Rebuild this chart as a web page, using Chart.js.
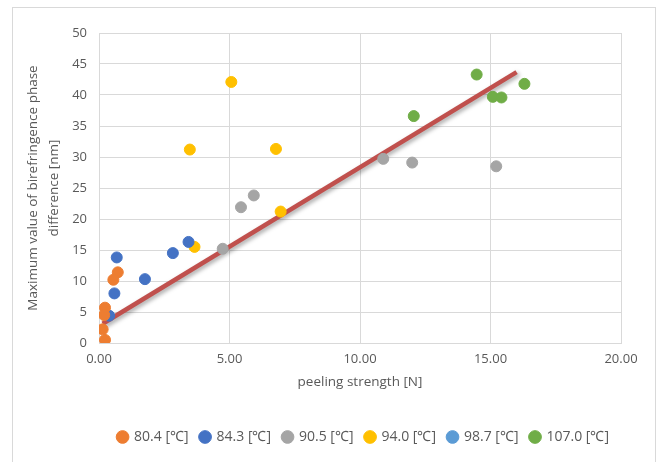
<!DOCTYPE html>
<html>
<head>
<meta charset="utf-8">
<script src="https://cdn.jsdelivr.net/npm/chart.js@4"></script>
<style>
  body { margin: 0; background: #fff; }
  #wrap { position: relative; width: 664px; height: 462px; }
  #frame { position: absolute; left: 12px; top: 7px; width: 644px; height: 470px; border: 1px solid #d9d9d9; box-sizing: border-box; }
  canvas { position: absolute; left: 0; top: 0; }
</style>
</head>
<body>
<div id="wrap">
  <div id="frame"></div>
  <canvas id="myChart" width="664" height="462"></canvas>
</div>
<script>
// series labels
var seriesNames = ["80.4 [℃]", "84.3 [℃]", "90.5 [℃]", "94.0 [℃]", "98.7 [℃]", "107.0 [℃]"];
var seriesColors = ["#ED7D31", "#4472C4", "#A5A5A5", "#FFC000", "#5B9BD5", "#70AD47"];

// peeling strength [N]
var x804 = [0.72, 0.55, 0.23, 0.2, 0.14, 0.23];
var y804 = [11.4, 10.2, 5.7, 4.5, 2.2, 0.5];

var x843 = [0.39, 0.59, 1.76, 0.68, 2.83, 3.43];
var y843 = [4.4, 8.0, 10.3, 13.8, 14.5, 16.3];

var x905 = [4.74, 5.44, 5.93, 10.89, 12.0, 15.22];
var y905 = [15.2, 21.9, 23.8, 29.7, 29.1, 28.5];

var x940 = [3.66, 3.48, 5.07, 6.78, 6.96];
var y940 = [15.5, 31.2, 42.1, 31.3, 21.2];

var x987 = [];
var y987 = [];

var x1070 = [12.06, 14.47, 15.09, 15.42, 16.3];
var y1070 = [36.6, 43.3, 39.7, 39.6, 41.8];

// linear trend line
var trendX = [0.14, 16.0];
var trendY = [3.1, 43.7];

var xTicks = [0, 5, 10, 15, 20];

function pts(xs, ys) {
  return xs.map(function (x, i) { return { x: x, y: ys[i] }; });
}

var allX = [x804, x843, x905, x940, x987, x1070];
var allY = [y804, y843, y905, y940, y987, y1070];

var datasets = seriesNames.map(function (name, i) {
  return {
    label: name,
    data: pts(allX[i], allY[i]),
    backgroundColor: seriesColors[i],
    borderColor: seriesColors[i],
    pointRadius: 5.5,
    pointHoverRadius: 5.5,
    showLine: false,
  };
});

datasets.push({
  label: "trend",
  data: pts(trendX, trendY),
  borderColor: "#C0504D",
  backgroundColor: "#C0504D",
  borderWidth: 4.5,
  pointRadius: 0,
  showLine: true,
  shadow: true,
});

// soft shadow under the trend line
var shadowPlugin = {
  id: "shadow",
  beforeDatasetDraw: function (chart, args) {
    if (chart.data.datasets[args.index].shadow) {
      var c = chart.ctx;
      c.save();
      c.shadowColor = "rgba(0,0,0,0.35)";
      c.shadowBlur = 4;
      c.shadowOffsetX = 2;
      c.shadowOffsetY = 2;
    }
  },
  afterDatasetDraw: function (chart, args) {
    if (chart.data.datasets[args.index].shadow) {
      chart.ctx.restore();
    }
  },
};

Chart.defaults.font.family = "'Open Sans', 'Liberation Sans', sans-serif";
Chart.defaults.color = "#595959";

var ctx = document.getElementById("myChart").getContext("2d");
var chart = new Chart(ctx, {
  type: "scatter",
  data: { datasets: datasets },
  plugins: [shadowPlugin],
  options: {
    responsive: false,
    animation: false,
    layout: { padding: { left: 22, right: 43, top: 33, bottom: 8 } },
    plugins: {
      tooltip: { enabled: false },
      legend: {
        position: "bottom",
        align: "end",
        labels: {
          filter: function (item) { return item.text !== "trend"; },
          usePointStyle: true,
          pointStyle: "circle",
          boxWidth: 9,
          boxHeight: 9,
          padding: 12,
          font: { size: 14 },
          color: "#595959",
        },
      },
    },
    scales: {
      x: {
        type: "linear",
        min: 0,
        max: 20,
        afterBuildTicks: function (scale) {
          scale.ticks = xTicks.map(function (v) { return { value: v }; });
        },
        afterFit: function (scale) { scale.height = 75; },
        grid: { color: "#d9d9d9", drawTicks: false },
        border: { color: "#d9d9d9" },
        ticks: {
          padding: 8,
          font: { size: 13 },
          callback: function (v) { return Number(v).toFixed(2); },
        },
        title: {
          display: true,
          text: "peeling strength [N]",
          font: { size: 13.5 },
          padding: { top: 2, bottom: 28 },
        },
      },
      y: {
        min: 0,
        max: 50,
        afterFit: function (scale) { scale.width = 77; },
        grid: { color: "#d9d9d9", drawTicks: false },
        border: { display: false },
        ticks: { stepSize: 5, padding: 12, font: { size: 13 } },
        title: {
          display: true,
          text: ["Maximum value of birefringence phase", "difference [nm]"],
          font: { size: 13.5, lineHeight: 1.6 },
          padding: { top: 0, bottom: 4 },
        },
      },
    },
  },
});
</script>
</body>
</html>
